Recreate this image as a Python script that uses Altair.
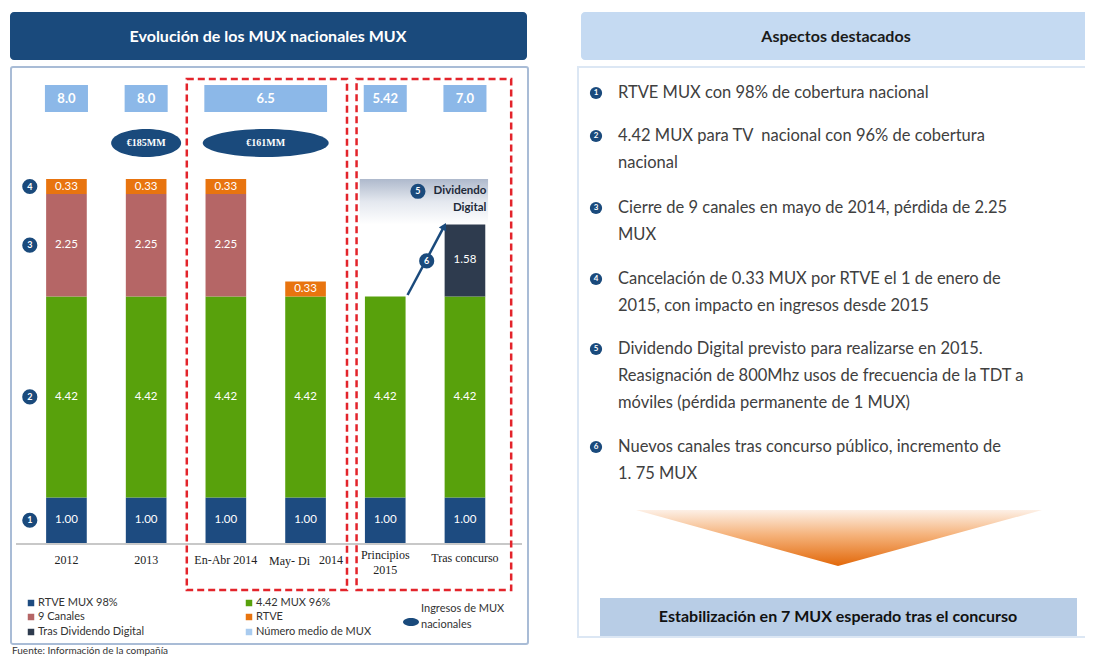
import altair as alt
import pandas as pd

# ---------------- data ----------------
periods = ["2012", "2013", "En-Abr 2014", "May- Di 2014", "Principios 2015", "Tras concurso"]
period_labels = ["2012", "2013", "En-Abr 2014", "May- Di", "Principios\n2015", "Tras concurso"]
period_label_pos = [0, 1, 2, 2.8, 4, 5]
extra_labels = ["2014"]
extra_label_pos = [3.32]

rtve_mux_98 = [1.00, 1.00, 1.00, 1.00, 1.00, 1.00]
mux_442_96 = [4.42, 4.42, 4.42, 4.42, 4.42, 4.42]
nueve_canales = [2.25, 2.25, 2.25, 0, 0, 0]
tras_dividendo = [0, 0, 0, 0, 0, 1.58]
rtve = [0.33, 0.33, 0.33, 0.33, 0, 0]

series_names = ["RTVE MUX 98%", "4.42 MUX 96%", "9 Canales", "Tras Dividendo Digital", "RTVE"]
series_values = [rtve_mux_98, mux_442_96, nueve_canales, tras_dividendo, rtve]
series_colors = ["#1D4B80", "#58A10C", "#B56666", "#2E3B4E", "#E8740F"]

avg_labels = ["8.0", "8.0", "6.5", "5.42", "7.0"]
avg_start = [0, 1, 2, 4, 5]
avg_end = [0, 1, 3, 4, 5]

ingresos_labels = ["€185MM", "€161MM"]
ingresos_pos = [1, 2.5]

bullets = [
    ["RTVE MUX con 98% de cobertura nacional"],
    ["4.42 MUX para TV\u00a0 nacional con 96% de cobertura", "nacional"],
    ["Cierre de 9 canales en mayo de 2014, pérdida de 2.25", "MUX"],
    ["Cancelación de 0.33 MUX por RTVE el 1 de enero de", "2015, con impacto en ingresos desde 2015"],
    ["Dividendo Digital previsto para realizarse en 2015.",
     "Reasignación de 800Mhz usos de frecuencia de la TDT a",
     "móviles (pérdida permanente de 1 MUX)"],
    ["Nuevos canales tras concurso público, incremento de", "1. 75 MUX"],
]

NAVY = "#1A4A7C"
FONT = "Lato"

# ---------------- scales ----------------
PXX = alt.Scale(domain=[8, 1085], range=[0, 1077], nice=False, zero=False)
PXY = alt.Scale(domain=[8, 658], range=[0, 650], nice=False, zero=False)
IX = alt.Scale(domain=[-0.5, 5.5], range=[18.6, 496.8], nice=False, zero=False)
MUX = alt.Scale(domain=[0, 8], range=[535, 171], nice=False, zero=False)


def enc(chart, x="x", y="y", xs=PXX, ys=PXY, x2=None, y2=None, **kw):
    e = dict(x=alt.X(f"{x}:Q", scale=xs, axis=None), y=alt.Y(f"{y}:Q", scale=ys, axis=None))
    if x2:
        e["x2"] = alt.X2(f"{x2}:Q")
    if y2:
        e["y2"] = alt.Y2(f"{y2}:Q")
    e.update(kw)
    return chart.encode(**e)


def df(**cols):
    return pd.DataFrame(cols)


layers = []

# ---------------- left panel frame ----------------
layers.append(enc(alt.Chart(df(x=[10], x1=[527], y=[12], y1=[60])).mark_rect(
    fill=NAVY, cornerRadius=4), x2="x1", y2="y1"))
layers.append(enc(alt.Chart(df(x=[268], y=[37], t=["Evolución de los MUX nacionales MUX"])).mark_text(
    font=FONT, fontSize=16, fontWeight="bold", color="white"), text="t:N"))
layers.append(enc(alt.Chart(df(x=[11], x1=[528], y=[67], y1=[644])).mark_rect(
    fill="white", stroke="#A9BCD6", strokeWidth=2, cornerRadius=2), x2="x1", y2="y1"))

# baseline
layers.append(enc(alt.Chart(df(x=[16], x1=[522], y=[544])).mark_rule(
    color="#C8C8C8", strokeWidth=2), x2="x1"))

# dashed groups (index units)
layers.append(enc(alt.Chart(df(x=[1.51, 3.64], x1=[3.52, 5.58], y=[79, 79], y1=[590, 590])).mark_rect(
    fill="white", fillOpacity=0, stroke="#E3242B", strokeWidth=2.5, strokeDash=[7, 4]),
    xs=IX, x2="x1", y2="y1"))

# average-MUX boxes
avg = df(x=[s - 0.27 for s in avg_start], x1=[e + 0.27 for e in avg_end],
         xm=[(s + e) / 2 for s, e in zip(avg_start, avg_end)], y=[85] * 5, y1=[112] * 5,
         ym=[98.5] * 5, t=avg_labels)
layers.append(enc(alt.Chart(avg).mark_rect(fill="#8CB8E8"), xs=IX, x2="x1", y2="y1"))
layers.append(enc(alt.Chart(avg).mark_text(font=FONT, fontSize=13, fontWeight="bold", color="white"),
                  x="xm", y="ym", xs=IX, text="t:N"))

# revenue ellipses
ell_w = [70, 126]
for lab, pos, w in zip(ingresos_labels, ingresos_pos, ell_w):
    ry = 28 / w
    path = f"M -1 0 A 1 {ry:.3f} 0 1 0 1 0 A 1 {ry:.3f} 0 1 0 -1 0 Z"
    d = df(x=[pos], y=[143], t=[lab])
    layers.append(enc(alt.Chart(d).mark_point(shape=path, size=w * w, filled=True,
                                              fill=NAVY, opacity=1, strokeWidth=0), xs=IX))
    layers.append(enc(alt.Chart(d).mark_text(font="Liberation Serif", fontSize=10, color="white",
                                             fontWeight="bold"), xs=IX, text="t:N"))

# Dividendo Digital gradient box (1 MUX lost)
grad = alt.LinearGradient(gradient="linear", x1=0, y1=0, x2=0, y2=1,
                          stops=[alt.GradientStop(color="#AEB9CC", offset=0),
                                 alt.GradientStop(color="#E4E8EF", offset=0.5),
                                 alt.GradientStop(color="#FFFFFF", offset=1)])
layers.append(enc(alt.Chart(df(x=[3.68], x1=[5.29], y=[7.0], y1=[8.0])).mark_rect(fill=grad),
                  xs=IX, ys=MUX, x2="x1", y2="y1"))
layers.append(enc(alt.Chart(df(x=[5.27, 5.27], y=[7.73, 7.36], t=["Dividendo", "Digital"])).mark_text(
    font=FONT, fontSize=11.5, fontWeight="bold", color="#1E2A3A", align="right"),
    xs=IX, ys=MUX, text="t:N"))

# stacked bars
rows = []
for i in range(len(periods)):
    base = 0.0
    for name, vals, col in zip(series_names, series_values, series_colors):
        v = vals[i]
        if v > 0:
            rows.append(dict(i=i, xl=i - 0.255, xr=i + 0.255, y0=base, y1=base + v,
                             ym=base + v / 2, label=f"{v:.2f}", color=col))
            base += v
seg = pd.DataFrame(rows)
layers.append(enc(alt.Chart(seg).mark_rect(), x="xl", x2="xr", y="y0", y2="y1", xs=IX, ys=MUX,
                  color=alt.Color("color:N", scale=None, legend=None)))
layers.append(enc(alt.Chart(seg).mark_text(font=FONT, fontSize=11.5, color="white"),
                  x="i", y="ym", xs=IX, ys=MUX, text="label:N"))

# arrow (new channels)
layers.append(enc(alt.Chart(df(x=[4.28, 4.73], y=[5.45, 6.93])).mark_line(color=NAVY, strokeWidth=2.5),
                  xs=IX, ys=MUX))
layers.append(enc(alt.Chart(df(x=[4.74], y=[6.96])).mark_point(
    shape="triangle-up", size=70, filled=True, color=NAVY, opacity=1, angle=28), xs=IX, ys=MUX))

# numbered circles on chart
num_circ = df(x=[-0.46, -0.46, -0.46, -0.46, 4.41, 4.52], y=[7.835, 6.545, 3.21, 0.5, 7.73, 6.2],
              t=["4", "3", "2", "1", "5", "6"])
layers.append(enc(alt.Chart(num_circ).mark_circle(size=230, color=NAVY, opacity=1), xs=IX, ys=MUX))
layers.append(enc(alt.Chart(num_circ).mark_text(font=FONT, fontSize=9, fontWeight="bold", color="white"),
                  xs=IX, ys=MUX, text="t:N"))

# x labels
lab = df(x=period_label_pos + extra_label_pos, y=[560, 560, 560, 561, 555, 558, 560],
         t=period_labels + extra_labels)
layers.append(enc(alt.Chart(lab).mark_text(font="Liberation Serif", fontSize=12, color="#222222",
                                           lineBreak="\n", lineHeight=15, baseline="middle"),
                  xs=IX, text="t:N"))

# legend
leg_sq = df(x=[31, 31, 31, 249, 249, 249], y=[603, 617, 632, 603, 617, 632],
            tx=[38, 38, 38, 256, 256, 256],
            t=["RTVE MUX 98%", "9 Canales", "Tras Dividendo Digital", "4.42 MUX 96%", "RTVE",
               "Número medio de MUX"],
            c=[series_colors[0], series_colors[2], series_colors[3], series_colors[1], series_colors[4],
               "#A9CBEF"])
layers.append(enc(alt.Chart(leg_sq).mark_square(size=42, opacity=1),
                  color=alt.Color("c:N", scale=None, legend=None)))
layers.append(enc(alt.Chart(leg_sq).mark_text(font=FONT, fontSize=11, color="#333333", align="left"),
                  x="tx", text="t:N"))
leg_ell = "M -1 0 A 1 0.5 0 1 0 1 0 A 1 0.5 0 1 0 -1 0 Z"
layers.append(enc(alt.Chart(df(x=[411], y=[622])).mark_point(shape=leg_ell, size=256, filled=True,
                                                              fill=NAVY, opacity=1, strokeWidth=0)))
layers.append(enc(alt.Chart(df(x=[421, 421], y=[609, 625], t=["Ingresos de MUX", "nacionales"])).mark_text(
    font=FONT, fontSize=11, color="#333333", align="left"), text="t:N"))
layers.append(enc(alt.Chart(df(x=[12], y=[651], t=["Fuente: Información de la compañía"])).mark_text(
    font=FONT, fontSize=10, color="#333333", align="left", baseline="middle"), text="t:N"))

# ---------------- right panel ----------------
layers.append(enc(alt.Chart(df(x=[581], x1=[1092], y=[12], y1=[60])).mark_rect(
    fill="#C5DAF2", cornerRadius=4), x2="x1", y2="y1"))
layers.append(enc(alt.Chart(df(x=[836], y=[37], t=["Aspectos destacados"])).mark_text(
    font=FONT, fontSize=16, fontWeight="bold", color="#1A1A1A"), text="t:N"))
layers.append(enc(alt.Chart(df(x=[578], x1=[1094], y=[67], y1=[637])).mark_rect(
    fill="white", stroke="#DCE7F4", strokeWidth=2), x2="x1", y2="y1"))

bullet_y = [93, 136, 208, 279, 349, 447]
circ = df(x=[596] * 6, y=bullet_y, t=[str(k + 1) for k in range(6)])
layers.append(enc(alt.Chart(circ).mark_circle(size=150, color=NAVY, opacity=1)))
layers.append(enc(alt.Chart(circ).mark_text(font=FONT, fontSize=8, fontWeight="bold", color="white"),
                  text="t:N"))
lines_x, lines_y, lines_t = [], [], []
for by, lines in zip(bullet_y, bullets):
    for k, ln in enumerate(lines):
        lines_x.append(618)
        lines_y.append(by + 27 * k)
        lines_t.append(ln)
layers.append(enc(alt.Chart(df(x=lines_x, y=lines_y, t=lines_t)).mark_text(
    font=FONT, fontSize=16.5, color="#404040", align="left"), text="t:N"))

# orange funnel
tri_grad = alt.LinearGradient(gradient="linear", x1=0, y1=0, x2=0, y2=1,
                              stops=[alt.GradientStop(color="#FDF0E6", offset=0),
                                     alt.GradientStop(color="#F5B27A", offset=0.45),
                                     alt.GradientStop(color="#E2680A", offset=1)])
layers.append(enc(alt.Chart(df(x=[636, 838, 1042], y=[510, 510, 510], y1=[510, 566, 510])).mark_area(
    fill=tri_grad, line=False), y2="y1"))

layers.append(enc(alt.Chart(df(x=[600], x1=[1077], y=[598], y1=[636])).mark_rect(fill="#B8CDE6"),
                  x2="x1", y2="y1"))
layers.append(enc(alt.Chart(df(x=[838], y=[617], t=["Estabilización en 7 MUX esperado tras el concurso"])).mark_text(
    font=FONT, fontSize=16, fontWeight="bold", color="#111111"), text="t:N"))

chart = alt.layer(*layers).resolve_scale(x="independent", y="independent").properties(
    width=1077, height=650, padding=0, autosize=alt.AutoSizeParams(type="none")
).configure_view(stroke=None)

chart.save("out.html", embed_options={"renderer": "svg", "actions": False})
